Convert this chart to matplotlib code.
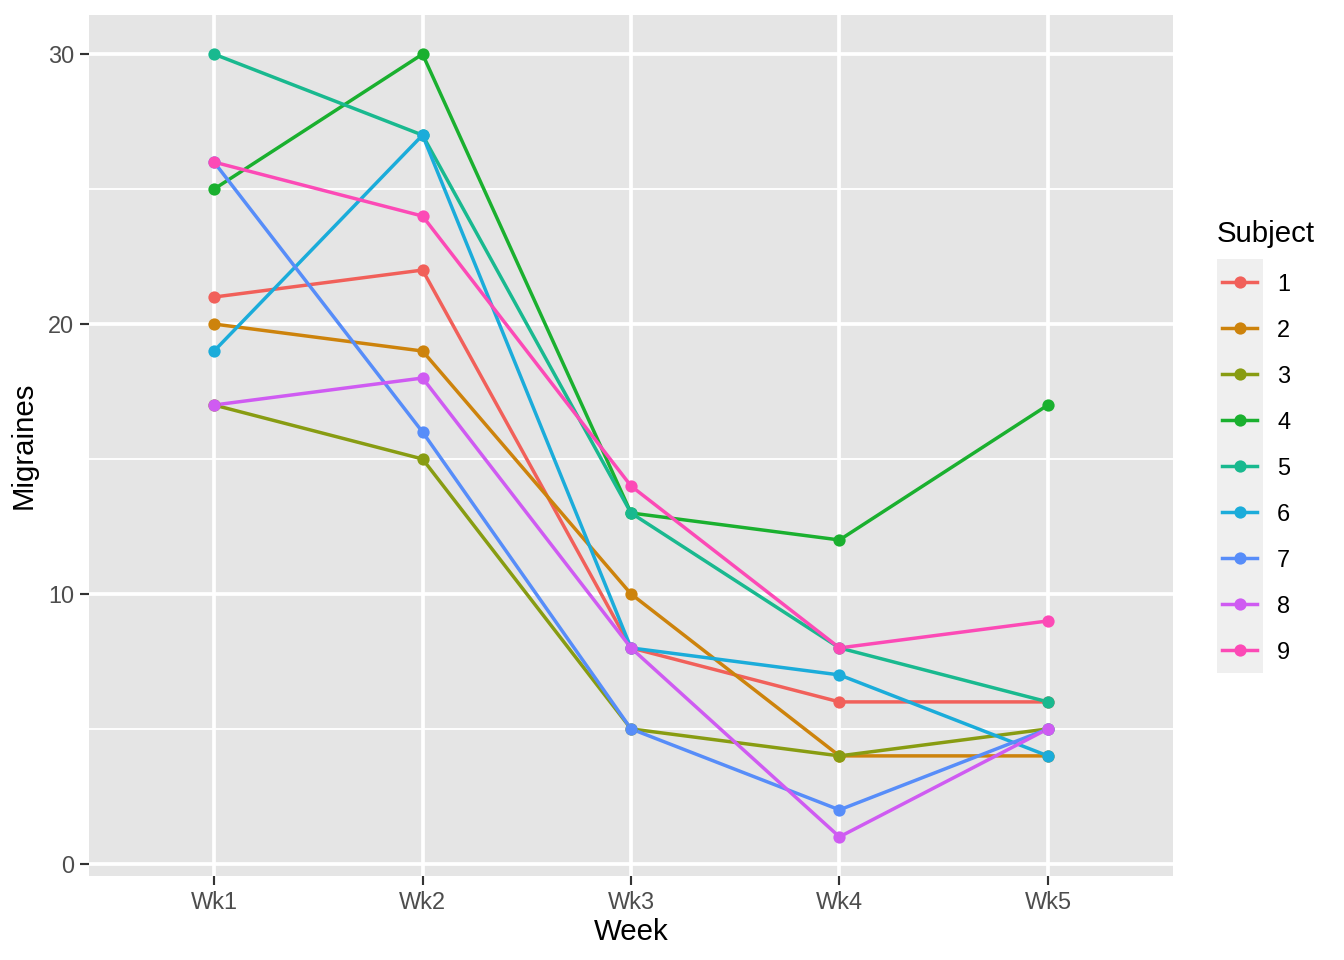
import matplotlib.pyplot as plt
from matplotlib.lines import Line2D
from matplotlib.patches import Rectangle
import numpy as np

plt.rcParams["font.family"] = ["Liberation Sans", "DejaVu Sans"]

WEEKS = ["Wk1", "Wk2", "Wk3", "Wk4", "Wk5"]
SUBJECTS = ["1", "2", "3", "4", "5", "6", "7", "8", "9"]

S1 = [21, 22, 8, 6, 6]
S2 = [20, 19, 10, 4, 4]
S3 = [17, 15, 5, 4, 5]
S4 = [25, 30, 13, 12, 17]
S5 = [30, 27, 13, 8, 6]
S6 = [19, 27, 8, 7, 4]
S7 = [26, 16, 5, 2, 5]
S8 = [17, 18, 8, 1, 5]
S9 = [26, 24, 14, 8, 9]
SERIES = [S1, S2, S3, S4, S5, S6, S7, S8, S9]

# hue palette as rendered in the reference
COLORS = ["#F1605A", "#CD830C", "#889C12", "#1AB02F", "#19B98F",
          "#1BACDA", "#578DF9", "#CF5BF2", "#FC4AB6"]

W, H = 1344, 960
DPI = 192
fig = plt.figure(figsize=(W / DPI, H / DPI), dpi=DPI)

# panel box in pixels
px0, px1, py0, py1 = 89, 1173, 15, 876
ax = fig.add_axes([px0 / W, 1 - py1 / H, (px1 - px0) / W, (py1 - py0) / H])
ax.set_facecolor("#E5E5E5")
for sp in ax.spines.values():
    sp.set_visible(False)

x = np.arange(len(WEEKS))
ax.set_xlim(-0.6, len(WEEKS) - 1 + 0.6)
ax.set_ylim(1 - 29 * 0.05, 30 + 29 * 0.05)

for yv in [5, 15, 25]:
    ax.axhline(yv, color="white", linewidth=0.7, zorder=0.5)
for yv in [0, 10, 20, 30]:
    ax.axhline(yv, color="white", linewidth=1.4, zorder=0.6)
for xv in x:
    ax.axvline(xv, color="white", linewidth=1.4, zorder=0.6)

for vals, col in zip(SERIES, COLORS):
    ax.plot(x, vals, color=col, linewidth=1.3, zorder=2,
            solid_capstyle="butt")
    ax.plot(x, vals, linestyle="none", marker="o", markersize=4.6,
            color=col, markeredgewidth=0, zorder=3)

ax.set_xticks(x)
ax.set_xticklabels(WEEKS)
ax.set_yticks([0, 10, 20, 30])
ax.tick_params(axis="both", length=3.3, width=0.8, color="#333333",
               labelsize=8.8, labelcolor="#4D4D4D", pad=2.2)
ax.set_xlabel("Week", fontsize=11, labelpad=1.5)
ax.set_ylabel("Migraines", fontsize=11, labelpad=4)

# legend drawn in pixel coordinates
lax = fig.add_axes([0, 0, 1, 1])
lax.set_xlim(0, W)
lax.set_ylim(H, 0)
lax.axis("off")
lax.text(1217, 234, "Subject", fontsize=11, ha="left", va="center")
key_top, key_h = 259, 46
lax.add_patch(Rectangle((1217, key_top), 46, key_h * len(SUBJECTS),
                        facecolor="#EFEFEF", edgecolor="none"))
for i, (lab, col) in enumerate(zip(SUBJECTS, COLORS)):
    cy = key_top + key_h * (i + 0.5)
    lax.add_line(Line2D([1222, 1257], [cy, cy], color=col, linewidth=1.3))
    lax.plot([1239.5], [cy], marker="o", markersize=4.6, color=col,
             markeredgewidth=0)
    lax.text(1277, cy + 2.5, lab, fontsize=8.8, ha="left", va="center")

fig.savefig("out.png", dpi=DPI)
